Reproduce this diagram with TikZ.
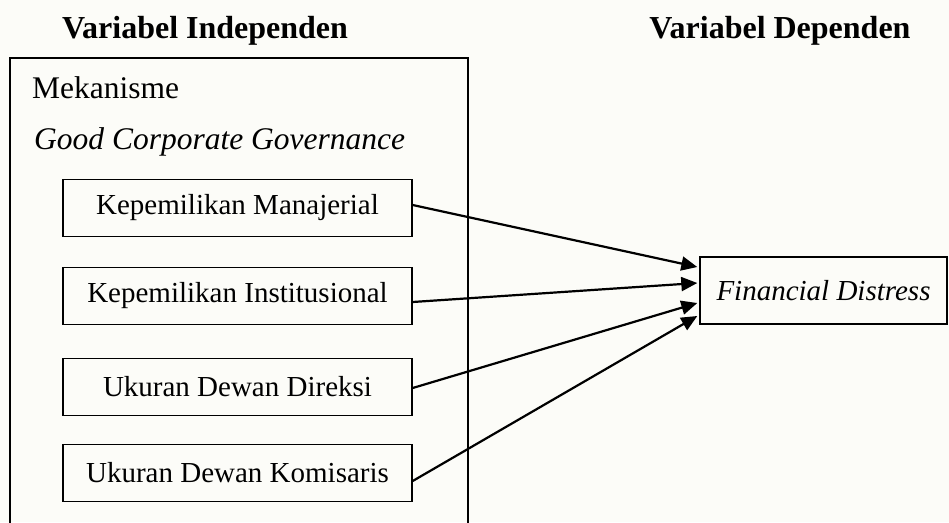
\documentclass[tikz,border=0pt]{standalone}
\usepackage{fontspec}
\setmainfont{Liberation Serif}
\usetikzlibrary{arrows.meta}
\definecolor{bgcol}{RGB}{252,252,248}
\begin{document}
\begin{tikzpicture}[x=1pt,y=-1pt,
  boxtext/.style={font=\fontsize{29}{34}\selectfont},
  outertext/.style={font=\fontsize{31.5}{37}\selectfont, inner sep=0pt, anchor=west},
  headtext/.style={font=\fontsize{32}{38}\selectfont\bfseries, inner sep=0pt},
  varbox/.style={draw, line width=1.4pt, boxtext, minimum width=349pt, minimum height=57pt, inner sep=0pt},
  link/.style={line width=2.2pt, -{Triangle[length=16pt,width=14pt]}}
]
\useasboundingbox (0,0) rectangle (949,522);
\clip (0,0) rectangle (949,522);
\fill[bgcol] (0,0) rectangle (949,522);
% headers
\node[headtext] (hind) at (205,31) {Variabel Independen};
\node[headtext] (hdep) at (780,31) {Variabel Dependen};
% outer box
\draw[line width=1.4pt] (10,58) rectangle (468,560);
\node[outertext] (mek) at (32,88) {Mekanisme};
\node[outertext] (gcg) at (34,142) {\itshape Good Corporate Governance};
% inner boxes
\node[varbox] (m1) at (237.5,208) {Kepemilikan Manajerial};
\node[varbox] (m2) at (237.5,296) {Kepemilikan Institusional};
\node[varbox] (m3) at (237.5,387) {Ukuran Dewan Direksi};
\node[varbox] (m4) at (237.5,473) {Ukuran Dewan Komisaris};
% dependent
\node[draw, line width=1.4pt, boxtext, minimum width=247pt, minimum height=67pt, inner sep=0pt] (fd) at (823.5,290.5) {\itshape Financial Distress};
% arrows
\draw[link] ([yshift=3pt]m1.east) -- ([xshift=-2pt,yshift=23.5pt]fd.west);
\draw[link] ([yshift=-6pt]m2.east) -- ([xshift=-2pt,yshift=7.5pt]fd.west);
\draw[link] ([yshift=-1pt]m3.east) -- ([xshift=-2pt,yshift=-12.5pt]fd.west);
\draw[link] ([yshift=-8pt]m4.east) -- ([xshift=-2pt,yshift=-25.5pt]fd.west);
\end{tikzpicture}
\end{document}
